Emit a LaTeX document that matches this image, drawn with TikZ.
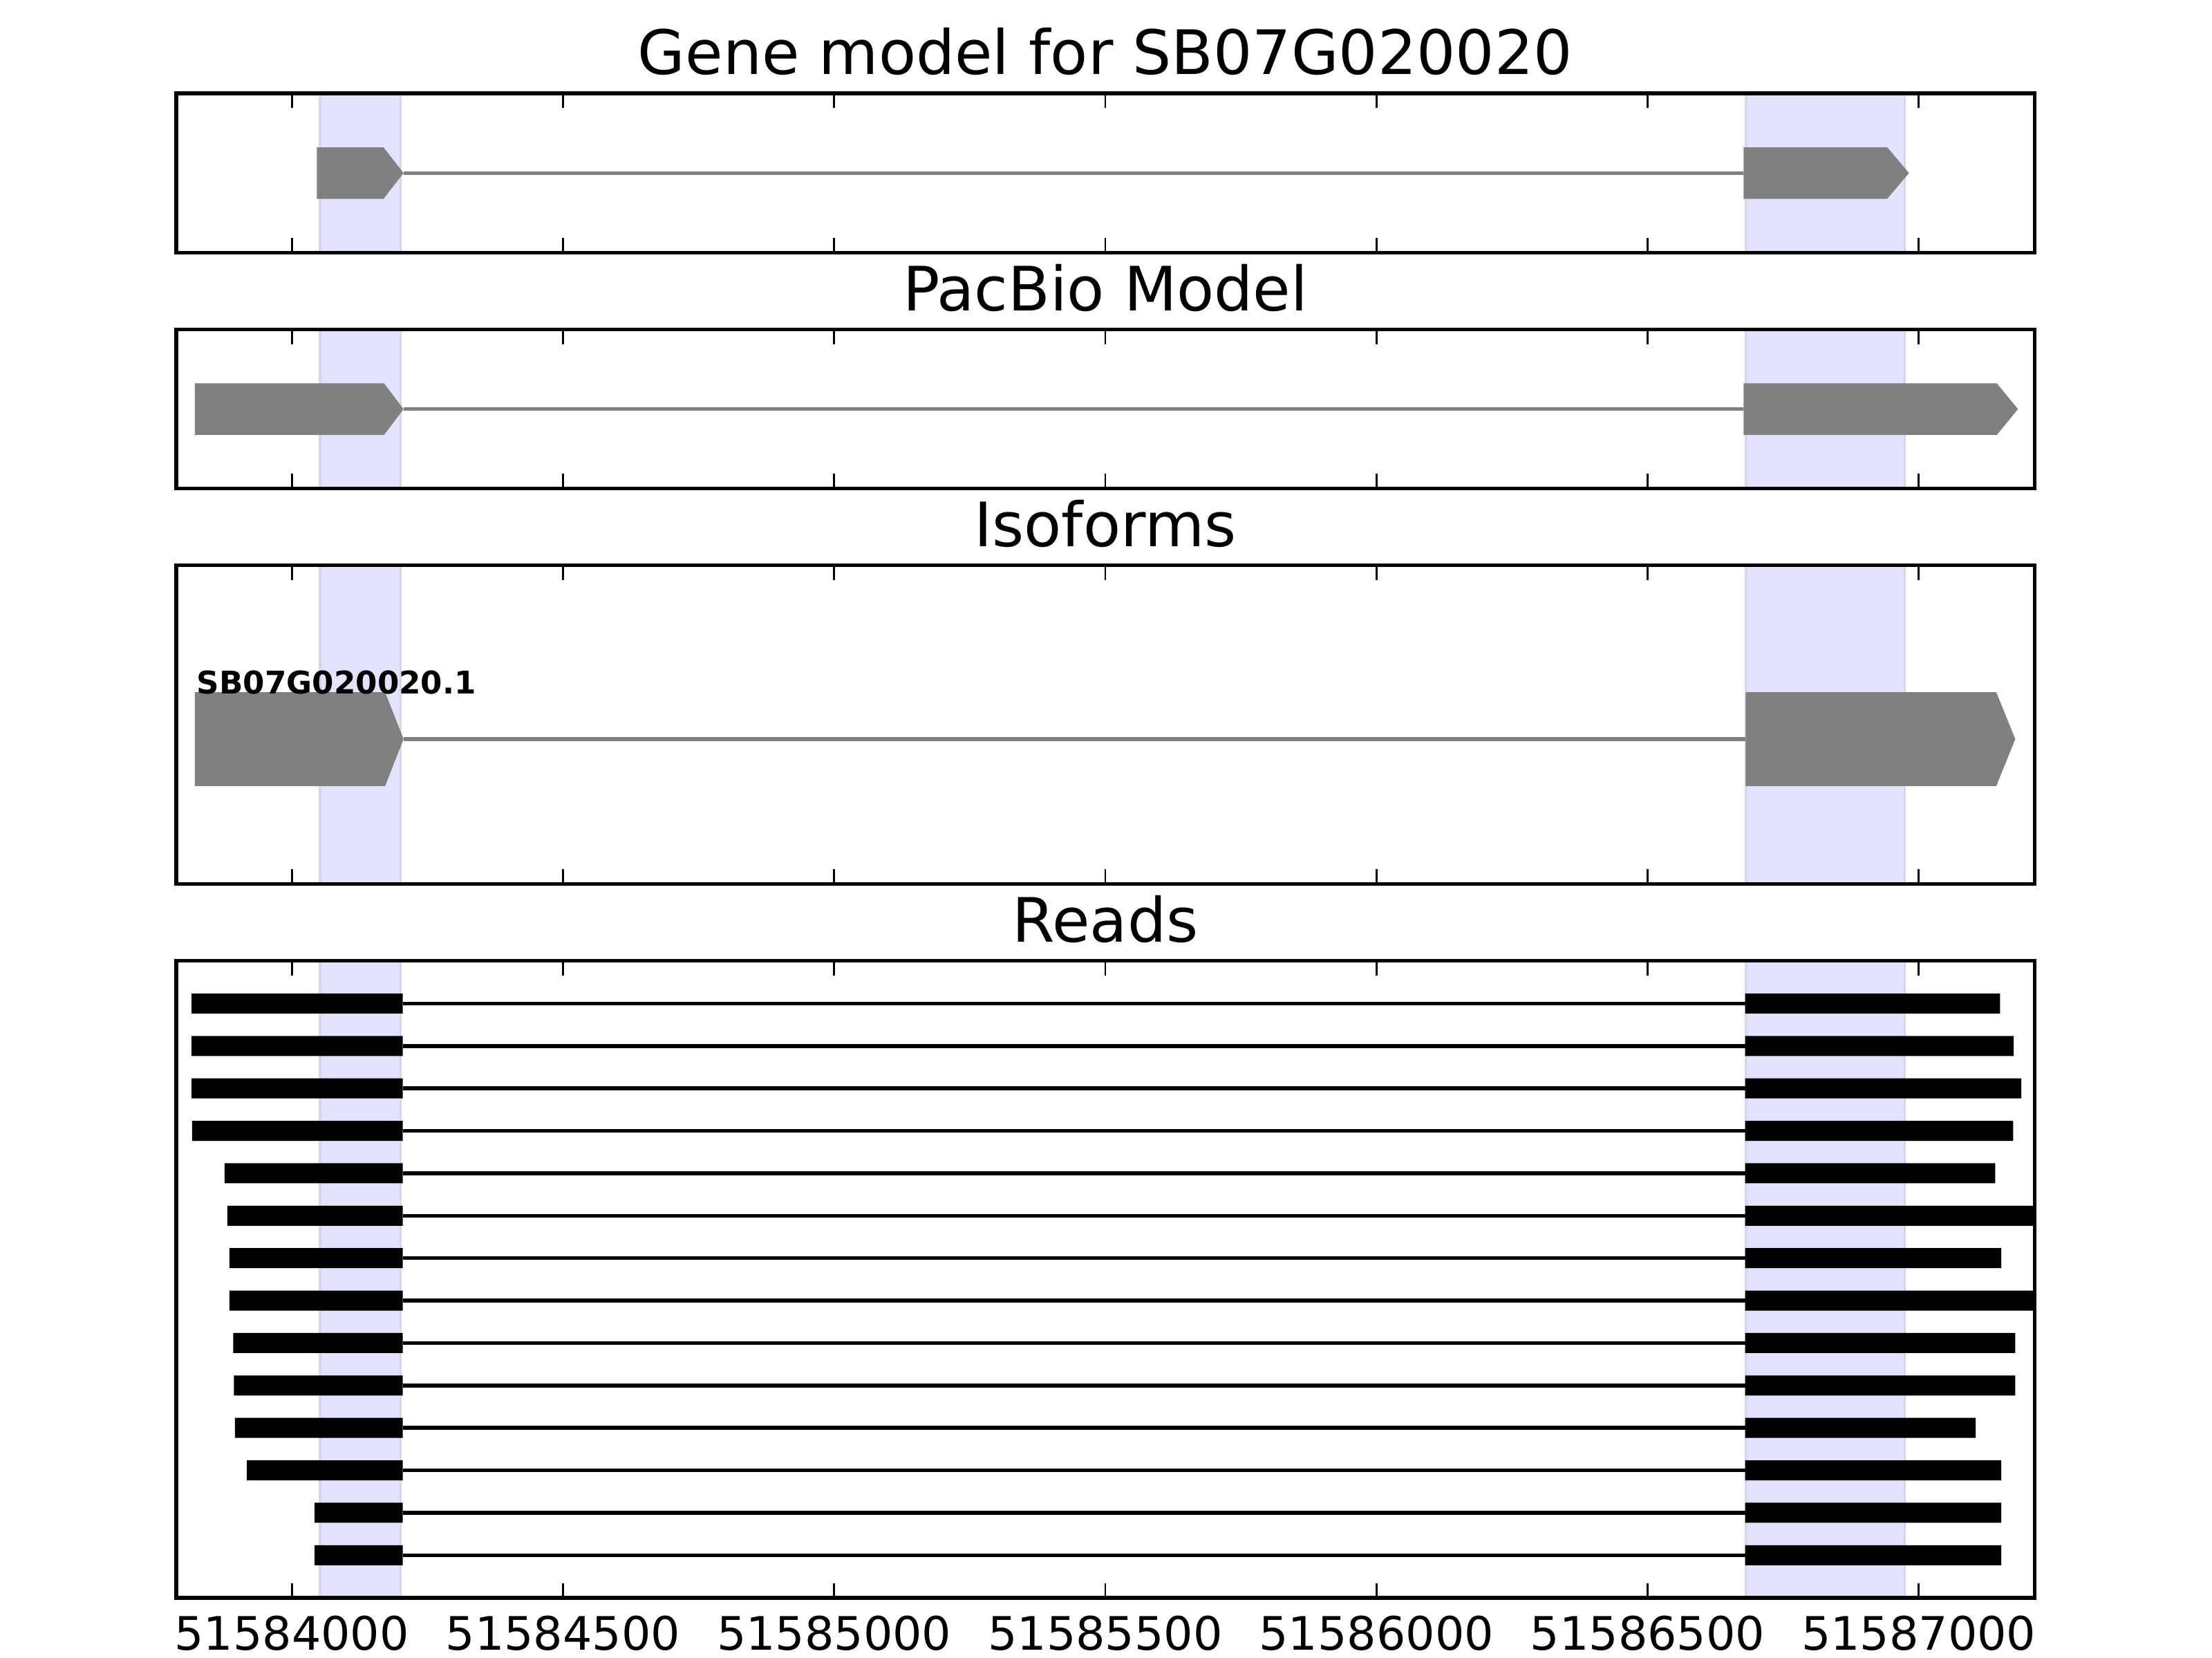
\documentclass[tikz,border=0pt]{standalone}
\usepackage{fontspec}
\setmainfont{DejaVu Sans}
\usepackage{tikz}
\definecolor{exgray}{HTML}{808080}
\definecolor{hiblue}{HTML}{E3E3FD}
\definecolor{hiedge}{HTML}{D7D7EC}

\begin{document}
\begin{tikzpicture}[x=0.003844cm,y=-0.01cm]
  \useasboundingbox (-538.2,0) rectangle (3540.8,1176);
  % x in bp from 51584000, y in px downwards
  \foreach \a/\b/\ttl/\nm in {66.2/179.2/Gene model for SB07G020020/gene,233.6/346.6/PacBio Model/pacbio,401/627/Isoforms/iso,681.4/1133.4/Reads/reads}{
    \fill[hiblue,draw=hiedge,line width=0.5pt] (52,\a) rectangle (200.6,\b) (2682,\a) rectangle (2974,\b);
    \node[font=\fontsize{12.35}{15}\selectfont,anchor=base] (\nm) at (1500,\a-13.4) {\ttl};
  }
  % gene models
  \foreach \s/\e/\m in {206/2677/122.75,206/2677/290.2,206/2681/524.3}{\draw[exgray,line width=0.77pt] (\s,\m) -- (\e,\m);}
  \foreach \s/\h/\e/\u/\v in {46/169/206/104.5/141,2677/2942/2982/104.5/141,-179/170/206/271.9/308.5,2677/3144/3183/271.9/308.5,-179/172/206/491/557.5,2681/3143/3178/491/557.5}
    \fill[exgray] (\s,\u) -- (\h,\u) -- (\e,{(\u+\v)/2}) -- (\h,\v) -- (\s,\v) -- cycle;
  \node[anchor=base west,inner sep=0pt,font=\bfseries\fontsize{6.3}{7.5}\selectfont] (isoname) at (-177,492) {SB07G020020.1};
  % reads
  \foreach \l/\r [count=\i] in {-185/3150,-185/3175,-185/3189,-184/3174,-124/3141,-119/3214,-115/3152,-115/3214,-108/3178,-107/3178,-105/3105,-83/3152,42/3152,42/3152}{
    \pgfmathsetmacro\yy{711.8+30.1*(\i-1)}
    \draw[line width=0.77pt] (204.5,\yy) -- (2680,\yy);
    \fill (\l,\yy-7.1) rectangle (204.5,\yy+7.1) (2680,\yy-7.1) rectangle (\r,\yy+7.1);
  }
  % frames and ticks
  \foreach \a/\b in {66.2/179.2,233.6/346.6,401/627,681.4/1133.4}{
    \foreach \t in {0,500,...,3000}{\draw[line width=0.4pt] (\t,\a) -- ++(0,10.5) (\t,\b) -- ++(0,-10.5);}
    \draw[line width=0.77pt] (-213,\a) rectangle (3214,\b);
  }
  \foreach \t in {0,500,...,3000}
    \node[font=\fontsize{9.3}{11}\selectfont,anchor=base] (tick\t) at (\t,1170.5) {\the\numexpr51584000+\t\relax};
\end{tikzpicture}
\end{document}
